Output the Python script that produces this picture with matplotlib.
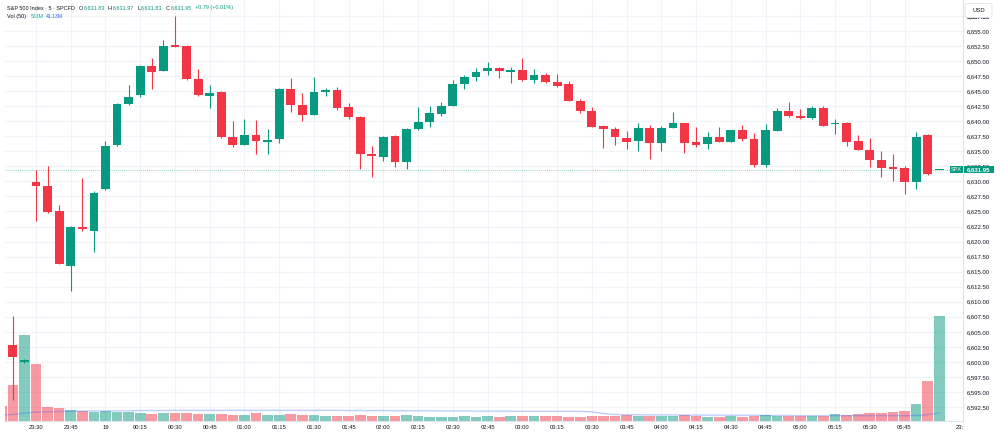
import numpy as np
import pandas as pd
import matplotlib
matplotlib.use("Agg")
import matplotlib.pyplot as plt
from matplotlib.patches import Rectangle, FancyBboxPatch
from matplotlib.transforms import blended_transform_factory
from matplotlib.ticker import FuncFormatter

plt.rcParams['font.family'] = ['Liberation Sans', 'DejaVu Sans']

W, H = 1000, 437
UP, DOWN = "#089981", "#F23645"
TXT = "#131722"
GRID = "#F0F3FA"

# 5-minute bars, 23:15 -> 06:00 (first bar is mostly off the left edge)
times = pd.date_range("2025-09-18 23:15", periods=82, freq="5min").strftime("%H:%M").tolist()

opens = [np.nan, 6602.84, 6599.90, 6629.85, 6629.24, 6625.03, 6615.94, 6622.47, 6621.81, 6628.79,
         6636.00, 6642.92, 6644.31, 6649.18, 6648.40, 6652.67, 6652.51, 6646.97, 6644.20, 6644.86,
         6637.33, 6636.10, 6637.66, 6636.60, 6637.10, 6645.41, 6642.75, 6641.09, 6644.86, 6645.14,
         6642.37, 6640.76, 6634.50, 6634.11, 6637.60, 6633.27, 6638.71, 6639.82, 6641.20, 6642.58,
         6646.19, 6647.30, 6648.30, 6648.85, 6648.19, 6648.52, 6646.80, 6647.64, 6646.57, 6646.14,
         6643.36, 6641.75, 6639.16, 6638.76, 6637.27, 6636.77, 6638.83, 6636.33, 6638.93, 6639.66,
         6636.50, 6636.22, 6637.33, 6636.60, 6638.54, 6637.10, 6632.78, 6638.43, 6641.75, 6640.92,
         6640.54, 6642.25, 6639.55, 6639.66, 6636.72, 6635.27, 6633.61, 6632.39, 6632.28, 6629.90,
         6637.76, 6631.83]
highs = [np.nan, 6607.70, 6600.50, 6631.90, 6632.56, 6626.13, 6622.60, 6630.51, 6628.45, 6636.67,
         6642.95, 6645.97, 6649.40, 6650.51, 6653.50, 6657.50, 6652.67, 6648.68, 6646.00, 6644.95,
         6640.04, 6640.42, 6640.21, 6638.76, 6645.50, 6647.19, 6644.69, 6647.41, 6645.47, 6645.64,
         6643.08, 6640.85, 6635.88, 6637.50, 6637.70, 6638.80, 6642.32, 6642.48, 6643.20, 6646.80,
         6647.74, 6648.85, 6649.90, 6648.95, 6649.07, 6650.51, 6648.68, 6647.97, 6647.80, 6646.69,
         6643.75, 6642.32, 6639.30, 6639.09, 6638.38, 6639.66, 6639.37, 6639.21, 6641.59, 6639.75,
         6638.99, 6638.16, 6639.04, 6638.60, 6639.43, 6638.00, 6639.49, 6642.15, 6643.15, 6641.98,
         6642.53, 6642.50, 6640.32, 6639.80, 6637.71, 6637.16, 6635.05, 6634.55, 6632.56, 6638.16,
         6637.85, 6631.97]
lows = [np.nan, 6593.70, 6599.80, 6623.40, 6624.70, 6616.20, 6611.83, 6621.76, 6618.32, 6628.60,
        6635.90, 6642.65, 6644.08, 6645.31, 6648.30, 6652.30, 6646.85, 6644.20, 6642.20, 6637.20,
        6635.77, 6636.00, 6634.55, 6634.55, 6636.33, 6641.59, 6640.09, 6641.00, 6644.20, 6641.87,
        6640.32, 6632.11, 6630.78, 6633.44, 6632.44, 6632.00, 6638.54, 6638.99, 6640.87, 6642.50,
        6645.41, 6646.64, 6647.74, 6647.19, 6646.41, 6646.70, 6646.41, 6646.41, 6645.64, 6643.30,
        6641.32, 6639.00, 6635.55, 6636.05, 6635.44, 6635.10, 6633.77, 6635.10, 6638.85, 6634.67,
        6635.77, 6635.44, 6636.50, 6636.50, 6636.70, 6632.44, 6632.44, 6638.35, 6640.76, 6640.32,
        6640.45, 6639.20, 6637.88, 6635.94, 6635.15, 6632.44, 6630.78, 6630.07, 6627.86, 6628.79,
        6631.06, 6631.83]
closes = [np.nan, 6600.85, 6600.30, 6629.24, 6624.91, 6616.27, 6622.37, 6622.04, 6628.12, 6635.88,
          6642.87, 6644.08, 6649.18, 6648.18, 6652.51, 6652.39, 6647.07, 6644.31, 6644.74, 6637.33,
          6636.00, 6637.66, 6636.67, 6636.80, 6645.41, 6642.70, 6641.09, 6644.86, 6645.19, 6642.15,
          6640.70, 6634.55, 6634.22, 6637.43, 6633.27, 6638.71, 6639.87, 6641.32, 6642.53, 6646.19,
          6647.40, 6648.13, 6648.85, 6648.30, 6648.57, 6646.80, 6647.69, 6646.47, 6645.91, 6643.36,
          6641.70, 6639.04, 6638.66, 6637.33, 6636.60, 6638.83, 6636.33, 6638.93, 6639.66, 6636.43,
          6636.10, 6637.33, 6636.55, 6638.54, 6637.00, 6632.78, 6638.49, 6641.70, 6640.87, 6640.59,
          6642.20, 6639.26, 6639.65, 6636.60, 6635.22, 6633.56, 6632.23, 6632.01, 6629.85, 6637.43,
          6631.16, 6631.95]
# volume in millions
volume = [76, 183, 437, 288, 71, 64, 56, 51, 44, 49,
          46, 46, 39, 36, 42, 42, 39, 34, 37, 36,
          32, 32, 39, 32, 32, 36, 32, 29, 27, 27,
          24, 30, 27, 24, 24, 30, 25, 22, 22, 20,
          24, 20, 24, 19, 24, 24, 24, 24, 24, 22,
          22, 24, 27, 27, 30, 27, 24, 24, 24, 28,
          24, 20, 20, 24, 20, 25, 28, 25, 25, 25,
          27, 25, 34, 29, 36, 39, 41, 46, 52, 88,
          205, 533]
vol_ma = [30, 33, 40, 45, 47, 48, 49, 50, 51, 51,
          52, 52, 53, 53, 53, 54, 54, 54, 54, 54,
          54, 54, 54, 54, 54, 54, 54, 54, 54, 54,
          53, 53, 53, 53, 52, 52, 52, 52, 51, 51,
          51, 50, 50, 50, 50, 49, 49, 49, 49, 49,
          49, 46, 38, 33, 32, 32, 31, 31, 31, 30,
          30, 30, 30, 29, 29, 29, 28, 28, 28, 27,
          27, 27, 27, 27, 27, 27, 27, 27, 27, 28,
          32, 41]

tick_labels = ["23:30", "23:45", "19", "00:15", "00:30", "00:45", "01:00", "01:15", "01:30",
               "01:45", "02:00", "02:15", "02:30", "02:45", "03:00", "03:15", "03:30", "03:45",
               "04:00", "04:15", "04:30", "04:45", "05:00", "05:15", "05:30", "05:45"]
last_price = 6631.95

x = np.arange(len(times))
o, h, l, c = map(np.array, (opens, highs, lows, closes))
is_up = c >= o
cols = [UP if u else DOWN for u in is_up]

fig = plt.figure(figsize=(W / 100, H / 100), dpi=100)
fig.patch.set_facecolor("white")
rect = [5 / W, (H - 421) / H, (963 - 5) / W, 421 / H]

# volume pane sits underneath the price pane
axv = fig.add_axes(rect)
ax = fig.add_axes(rect, sharex=axv)
ax.patch.set_alpha(0)

ymin, ymax = 6590.17, 6660.15
ax.set_ylim(ymin, ymax)
ax.set_xlim(0.323, 83.05)
vol_top = 533 * 421 / 105
axv.set_ylim(0, vol_top)

# grid (drawn on the lower axes so bars sit over it)
price_ticks = np.arange(6592.5, 6657.6, 2.5)
tick_pos = [times.index("00:00" if t == "19" else t) for t in tick_labels]
for p in price_ticks:
    axv.axhline((p - ymin) / (ymax - ymin) * vol_top, color=GRID, lw=0.8, zorder=0)
for t in tick_pos:
    axv.axvline(t, color=GRID, lw=0.8, zorder=0)

# volume bars + MA
vcols = [(0.031, 0.6, 0.506, 0.5) if u else (0.949, 0.212, 0.271, 0.5) for u in is_up]
axv.bar(x, volume, width=0.92, color=vcols, linewidth=0, zorder=2)
axv.plot(x, vol_ma, color="#2962FF", alpha=0.3, lw=1.0, zorder=3)

# candles
ax.vlines(x, l, h, colors=cols, lw=0.8, zorder=3)
body_lo = np.minimum(o, c)
body_h = np.maximum(np.abs(c - o), 0.2)
ax.bar(x, body_h, bottom=body_lo, width=0.76, color=cols, linewidth=0, zorder=4)

# last price line
ax.axhline(last_price, color=UP, lw=0.6, ls=(0, (1, 1.5)), alpha=0.6, zorder=2)

for a in (ax, axv):
    for s in a.spines.values():
        s.set_visible(False)
axv.set_yticks([])
axv.tick_params(axis="x", length=0, labelbottom=False)
for side in ("right", "bottom"):
    ax.spines[side].set_visible(True)
    ax.spines[side].set_color("#E0E3EB")
    ax.spines[side].set_linewidth(0.8)

ax.yaxis.tick_right()
ax.set_yticks(list(price_ticks) + [6657.5])
ax.yaxis.set_major_formatter(FuncFormatter(lambda v, _: f"{v:,.2f}"))
ax.tick_params(axis="y", length=0, pad=3, labelsize=4.3, colors=TXT)

xt = tick_pos + [3 + (959.5 - 36) / 11.58]
ax.set_xticks(xt)
ax.set_xticklabels(tick_labels + ["23:"])
ax.tick_params(axis="x", length=0, pad=3, labelsize=4.2, colors=TXT)

# axis-side boxes
fx = blended_transform_factory(fig.transFigure, ax.transData)
bh = 7.6 / 6.016
ax.add_patch(Rectangle((950 / W, last_price - bh / 2), 13 / W, bh, transform=fx,
                       facecolor=UP, edgecolor="none", clip_on=False, zorder=10))
ax.add_patch(Rectangle((963.5 / W, last_price - bh / 2), 30 / W, bh, transform=fx,
                       facecolor=UP, edgecolor="none", clip_on=False, zorder=10))
ax.text(956.5 / W, last_price, "SPX", transform=fx, ha="center", va="center",
        fontsize=4.0, color="white", zorder=11, clip_on=False)
ax.text(978.5 / W, last_price, f"{last_price:,.2f}", transform=fx, ha="center", va="center",
        fontsize=4.3, color="white", fontweight="bold", zorder=11, clip_on=False)

fig.patches.append(FancyBboxPatch((965 / W, 1 - 17.5 / H), 27 / W, 14 / H,
                                  boxstyle="round,pad=0,rounding_size=0.003",
                                  transform=fig.transFigure, facecolor="white",
                                  edgecolor="#E0E3EB", lw=0.6, zorder=20))
fig.text(978.5 / W, 1 - 10.3 / H, "USD", ha="center", va="center", fontsize=4.2, color=TXT, zorder=21)

# legend
def ftxt(px, py, s, color=TXT, size=4.0):
    fig.text(px / W, 1 - py / H, s, ha="left", va="center", fontsize=size, color=color)

ftxt(7, 8, "S&P 500 Index · 5 · SPCFD")
for lx, letter, val in [(79, "O", opens[-1]), (108, "H", highs[-1]), (137, "L", lows[-1]), (166, "C", closes[-1])]:
    ftxt(lx, 8, letter)
    ftxt(lx + (4.6 if letter in "OHC" else 3.6), 8, f"{val:,.2f}", color=UP)
ftxt(195, 8, "+0.79 (+0.01%)", color=UP)
ftxt(7, 16.5, "Vol (50)")
ftxt(31, 16.5, "533M", color="#22AB94", size=3.7)
ftxt(45.5, 16.5, "41.13M", color="#2962FF", size=3.7)

fig.savefig("out.png", dpi=100, facecolor="white")
